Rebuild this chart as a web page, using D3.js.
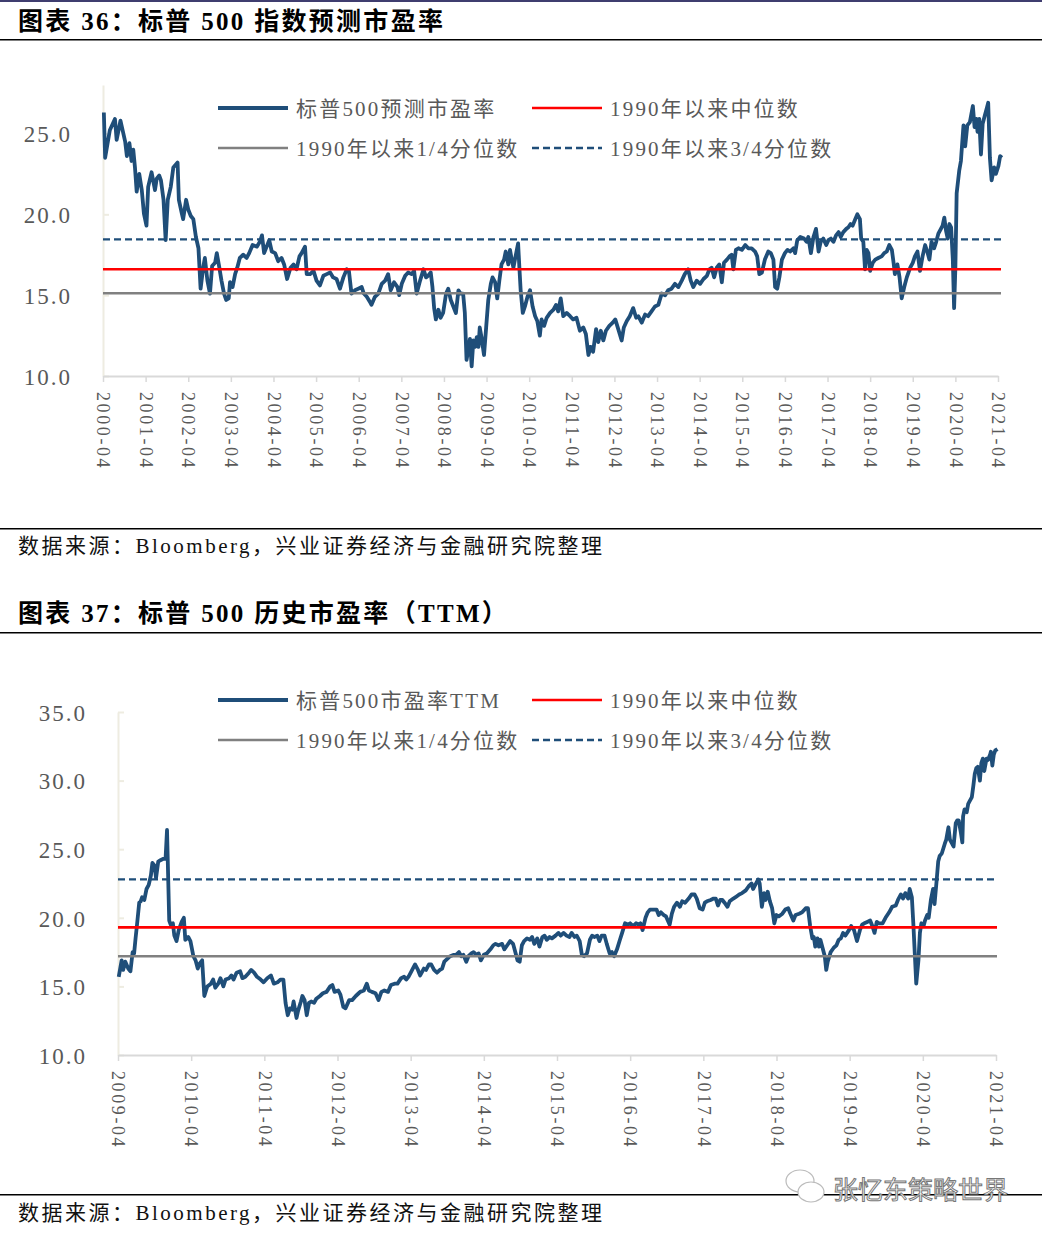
<!DOCTYPE html>
<html><head><meta charset="utf-8">
<script src="https://cdn.jsdelivr.net/npm/d3@7"></script>
<style>
html,body{margin:0;padding:0;background:#fff;}
svg{display:block;}
</style></head>
<body>
<svg id="c" width="1048" height="1236"></svg>
<script>
// ---------------- DATA ----------------
// Chart 36: forward P/E (decimal year, value)
const fwdYears = [2000.27,2000.30,2000.41,2000.53,2000.57,2000.66,2000.77,2000.81,2000.87,2000.92,2000.96,2001.00,2001.04,2001.10,2001.16,2001.21,2001.27,2001.31,2001.39,2001.47,2001.51,2001.57,2001.61,2001.67,2001.72,2001.77,2001.84,2001.90,2002.00,2002.03,2002.10,2002.13,2002.20,2002.25,2002.31,2002.37,2002.43,2002.49,2002.54,2002.60,2002.64,2002.70,2002.76,2002.81,2002.88,2002.92,2002.98,2003.03,2003.09,2003.14,2003.20,2003.23,2003.29,2003.35,2003.40,2003.46,2003.54,2003.62,2003.68,2003.76,2003.86,2003.93,2003.98,2004.03,2004.09,2004.15,2004.21,2004.29,2004.36,2004.44,2004.50,2004.57,2004.65,2004.72,2004.79,2004.86,2004.91,2004.99,2005.03,2005.11,2005.19,2005.26,2005.34,2005.42,2005.50,2005.58,2005.65,2005.73,2005.81,2005.89,2005.97,2006.02,2006.08,2006.16,2006.24,
2006.32,2006.37,2006.44,2006.51,2006.55,2006.63,2006.71,2006.79,2006.87,2006.94,2007.00,2007.08,2007.16,2007.20,2007.26,2007.34,2007.41,2007.49,2007.55,2007.61,2007.69,2007.77,2007.83,2007.88,2007.94,2007.98,2008.02,2008.06,2008.12,2008.17,2008.23,2008.30,2008.35,2008.41,2008.47,2008.53,2008.59,2008.64,2008.70,2008.74,2008.78,2008.82,2008.86,2008.90,2008.94,2008.98,2009.02,2009.06,2009.09,2009.13,2009.19,2009.24,2009.29,2009.35,2009.39,2009.45,2009.50,2009.55,2009.60,2009.66,2009.70,2009.76,2009.80,2009.84,2009.88,2009.93,2009.99,2010.02,2010.05,2010.10,2010.15,2010.21,2010.27,2010.33,2010.39,2010.44,2010.50,2010.54,2010.60,2010.66,2010.74,2010.82,2010.88,2010.93,2010.99,2011.05,2011.13,2011.21,2011.28,2011.36,2011.44,2011.52,2011.58,2011.64,2011.69,2011.75,2011.82,2011.87,2011.93,2011.99,2012.05,2012.13,2012.21,2012.27,2012.34,2012.42,2012.47,2012.54,2012.61,2012.69,2012.76,2012.81,2012.89,2012.97,2013.04,2013.12,2013.20,2013.28,2013.36,2013.44,2013.51,2013.59,2013.67,2013.75,2013.83,2013.90,2013.98,2014.04,2014.10,2014.18,2014.26,
2014.34,2014.42,2014.48,2014.53,2014.59,2014.65,2014.71,2014.77,2014.82,2014.89,2014.95,2015.00,2015.04,2015.10,2015.16,2015.24,2015.32,2015.39,2015.47,2015.55,2015.60,2015.65,2015.71,2015.78,2015.86,2015.92,2015.98,2016.02,2016.07,2016.12,2016.18,2016.25,2016.31,2016.37,2016.45,2016.49,2016.54,2016.61,2016.70,2016.76,2016.80,2016.86,2016.92,2016.98,2017.04,2017.09,2017.15,2017.22,2017.27,2017.33,2017.39,2017.45,2017.51,2017.56,2017.62,2017.69,2017.74,2017.79,2017.84,2017.90,2017.95,2018.01,2018.04,2018.09,2018.13,2018.17,2018.21,2018.25,2018.31,2018.37,2018.44,2018.52,2018.58,2018.64,2018.70,2018.76,2018.80,2018.83,2018.89,2018.94,2018.99,2019.05,2019.11,2019.19,2019.25,2019.30,2019.36,2019.42,2019.48,2019.54,2019.59,2019.64,2019.69,2019.75,2019.80,2019.85,2019.91,2019.95,2019.99,2020.03,2020.07,2020.11,2020.15,2020.19,2020.22,2020.25,2020.28,2020.34,2020.38,2020.44,2020.48,2020.53,2020.59,2020.66,2020.70,2020.74,2020.77,2020.81,2020.85,2020.89,2020.95,2020.99,2021.02,2021.06,2021.10,2021.16,2021.20,2021.26,2021.30,2021.34];
const fwdValues = [26.3,23.5,25.2,25.9,24.6,25.8,24.5,23.6,24.4,23.3,24.0,22.9,21.4,22.5,21.5,20.05,19.3,21.7,22.6,21.5,22.2,22.4,22.1,20.9,18.4,20.9,21.7,22.9,23.2,20.9,20.05,19.7,20.9,20.3,19.9,19.7,18.6,17.9,15.4,16.7,17.3,15.9,15.1,16.8,17.0,17.6,16.7,15.9,15.1,14.7,14.8,15.8,15.5,16.3,16.7,17.3,17.5,17.3,17.6,18.1,18.0,18.3,18.7,17.6,18.0,18.4,17.7,17.6,17.1,17.3,16.9,16.0,16.7,16.9,16.6,17.4,17.6,18.0,16.3,16.3,16.5,15.9,15.6,16.2,16.3,16.4,16.1,16.0,15.4,16.1,16.6,16.5,15.1,15.3,15.4,
15.5,15.1,14.9,14.6,14.4,14.9,15.1,15.7,15.9,16.3,15.3,15.8,15.5,15.0,15.7,16.2,16.4,16.3,16.5,15.1,15.9,16.6,16.1,16.2,16.4,15.5,14.2,13.5,14.1,13.6,13.9,15.1,15.4,14.7,14.3,13.9,15.3,15.1,15.1,13.9,11.0,11.6,12.3,10.6,12.2,11.8,12.4,11.8,13.0,12.4,11.3,13.0,14.7,15.7,16.1,15.8,14.8,15.9,16.9,17.2,17.7,16.9,17.8,17.2,16.7,17.4,18.2,16.7,15.3,13.9,14.3,14.9,15.3,14.3,13.7,13.4,12.5,13.5,13.1,13.6,13.9,14.1,14.4,14.0,14.8,13.7,13.9,13.7,13.5,13.6,12.8,13.0,12.6,11.3,11.8,11.5,12.9,12.1,12.8,12.2,12.8,13.1,13.3,13.5,12.9,12.2,13.0,13.4,13.7,14.2,13.6,13.7,13.3,13.8,13.7,14.0,14.3,14.4,15.1,15.0,15.3,15.4,15.7,15.5,15.9,16.3,16.6,15.9,15.5,15.9,15.7,
16.0,16.2,16.6,16.7,16.1,16.7,16.9,15.8,17.0,17.2,17.4,17.5,16.6,17.8,17.9,17.8,18.1,17.9,17.9,17.7,17.4,16.3,16.4,17.2,17.7,17.6,17.2,15.5,15.4,16.1,17.2,17.6,17.8,17.7,17.9,17.6,18.4,18.6,18.5,18.3,18.6,17.6,18.6,19.1,17.7,18.3,18.5,18.1,18.4,18.5,18.3,18.7,18.9,18.6,18.9,19.1,19.2,19.4,19.3,19.7,20.0,19.7,18.5,18.3,16.6,17.8,17.6,16.5,17.0,17.2,17.3,17.4,17.6,17.7,18.1,17.8,17.0,16.3,16.9,16.1,14.8,15.5,16.1,16.7,17.0,17.4,17.7,16.5,17.4,18.1,17.7,17.2,18.3,17.9,18.3,18.8,19.1,19.3,19.8,19.0,18.5,19.4,19.2,17.2,14.2,16.7,21.3,22.7,23.3,25.5,24.2,25.5,25.7,26.7,25.4,25.9,25.1,25.9,23.7,25.6,26.2,26.6,26.9,23.5,22.1,22.9,22.5,23.0,23.6,23.5];

// Chart 37: trailing P/E (TTM)
const ttmYears = [2009.26,2009.30,2009.32,2009.35,2009.39,2009.42,2009.45,2009.47,2009.49,2009.51,2009.54,2009.56,2009.58,2009.61,2009.64,2009.67,2009.70,2009.72,2009.75,2009.77,2009.80,2009.83,2009.87,2009.90,2009.92,2009.95,2009.97,2010.00,2010.02,2010.05,2010.08,2010.12,2010.15,2010.17,2010.21,2010.24,2010.28,2010.31,2010.34,2010.37,2010.40,2010.43,2010.47,2010.52,2010.55,2010.58,2010.62,2010.65,2010.69,2010.72,2010.77,2010.80,2010.83,2010.87,2010.92,2010.95,2010.99,2011.04,2011.07,2011.11,2011.15,2011.20,2011.24,2011.29,2011.34,2011.38,2011.43,2011.47,2011.51,2011.54,2011.57,2011.60,2011.63,2011.65,2011.69,2011.71,2011.75,2011.77,2011.80,2011.83,2011.86,2011.89,2011.93,2011.96,2012.01,2012.05,2012.10,2012.15,2012.18,2012.21,2012.26,2012.29,2012.33,2012.36,2012.41,2012.45,2012.50,2012.54,
2012.56,2012.61,2012.65,2012.68,2012.72,2012.77,2012.81,2012.85,2012.89,2012.94,2012.98,2013.03,2013.07,2013.12,2013.16,2013.19,2013.22,2013.26,2013.29,2013.31,2013.35,2013.38,2013.43,2013.46,2013.50,2013.53,2013.57,2013.61,2013.65,2013.68,2013.71,2013.75,2013.79,2013.84,2013.87,2013.91,2013.94,2013.97,2014.01,2014.04,2014.08,2014.11,2014.15,2014.18,2014.21,2014.25,2014.29,2014.34,2014.38,2014.41,2014.45,2014.50,2014.53,2014.57,2014.61,2014.65,2014.68,2014.71,2014.74,2014.77,2014.80,2014.84,2014.88,2014.91,2014.94,2014.98,2015.01,2015.05,2015.08,2015.11,2015.15,2015.18,2015.23,2015.27,2015.30,2015.34,2015.38,2015.42,2015.45,2015.49,2015.52,2015.56,2015.59,2015.62,2015.66,2015.70,2015.73,2015.76,2015.80,2015.83,2015.86,2015.90,2015.93,2015.97,2016.00,2016.03,2016.07,2016.11,2016.14,2016.18,2016.22,2016.25,2016.29,2016.33,2016.37,2016.39,2016.42,2016.46,2016.49,2016.52,2016.56,2016.61,2016.64,2016.67,2016.71,2016.74,2016.79,2016.82,2016.85,2016.89,2016.93,2016.96,2017.00,2017.05,2017.09,2017.13,2017.16,2017.20,
2017.24,2017.27,2017.30,2017.35,2017.39,2017.42,2017.45,2017.48,2017.51,2017.54,2017.58,2017.61,2017.66,2017.69,2017.74,2017.78,2017.83,2017.87,2017.91,2017.93,2017.96,2018.00,2018.02,2018.05,2018.08,2018.10,2018.13,2018.16,2018.19,2018.22,2018.25,2018.28,2018.33,2018.37,2018.41,2018.44,2018.48,2018.51,2018.56,2018.60,2018.65,2018.68,2018.71,2018.74,2018.76,2018.78,2018.81,2018.83,2018.85,2018.88,2018.91,2018.93,2018.95,2018.99,2019.03,2019.07,2019.10,2019.13,2019.16,2019.19,2019.24,2019.27,2019.31,2019.35,2019.39,2019.42,2019.45,2019.49,2019.53,2019.56,2019.59,2019.62,2019.65,2019.70,2019.74,2019.79,2019.83,2019.88,2019.91,2019.95,2019.98,2020.01,2020.05,2020.07,2020.10,2020.12,2020.14,2020.16,2020.19,2020.21,2020.23,2020.26,2020.28,2020.31,2020.33,2020.36,2020.39,2020.41,2020.44,2020.46,2020.48,2020.51,2020.55,2020.57,2020.60,2020.62,2020.65,2020.67,2020.70,2020.72,2020.74,2020.77,2020.79,2020.80,2020.82,2020.85,2020.87,2020.89,2020.92,2020.94,2020.96,2020.98,2021.00,2021.03,2021.05,2021.07,2021.09,2021.12,2021.14,2021.17,2021.18,2021.20,2021.22,2021.24,2021.27];
const ttmValues = [15.7,16.9,16.2,16.8,16.3,16.1,17.5,17.4,18.5,19.5,21.1,21.2,21.5,21.3,22.1,22.4,23.1,24.0,23.8,22.9,24.1,24.2,24.3,24.3,26.4,19.8,19.5,19.6,18.7,18.3,19.1,19.7,20.0,18.4,18.6,18.3,17.2,16.9,16.3,16.7,16.9,14.3,15.0,15.2,15.5,14.9,15.2,15.6,15.0,15.5,15.6,15.8,15.5,16.0,16.1,15.6,15.7,16.0,16.2,16.0,15.7,15.5,15.3,15.6,15.8,15.2,15.3,15.5,15.5,13.8,12.9,13.4,13.3,13.9,12.7,13.2,13.9,14.3,14.0,12.9,13.8,13.9,13.8,14.1,14.3,14.5,14.6,15.0,15.1,14.6,14.7,14.4,13.5,13.4,14.0,14.0,14.3,14.5,
14.6,14.7,15.2,14.7,14.6,14.5,14.0,14.6,14.7,14.6,15.1,15.2,15.2,15.6,15.7,15.5,15.7,16.1,16.4,16.6,16.2,15.8,16.3,16.2,16.6,16.6,16.2,16.0,16.2,16.3,16.8,17.0,17.2,17.3,17.3,17.5,17.2,17.3,16.8,17.2,17.4,17.5,17.3,17.4,16.9,17.3,17.4,17.7,18.0,18.1,18.0,18.1,17.7,18.0,18.3,18.1,17.5,16.9,16.8,18.0,18.3,18.5,18.4,18.6,18.1,18.5,17.9,18.6,18.7,18.4,18.6,18.5,18.7,18.9,18.7,18.9,18.7,18.6,18.9,18.6,18.7,18.3,17.3,17.2,17.4,18.4,18.7,18.6,18.7,18.3,18.7,18.7,18.1,17.4,17.5,17.2,17.7,18.4,18.9,19.6,19.5,19.6,19.4,19.6,19.5,19.6,19.1,20.0,20.4,20.6,20.6,20.6,20.2,20.4,20.2,20.1,19.5,20.3,20.8,21.1,20.8,21.2,21.1,21.4,21.7,21.7,21.4,20.7,
20.6,21.1,21.2,21.3,21.4,21.4,20.9,21.3,21.3,21.1,20.8,21.2,21.4,21.5,21.7,21.8,22.0,22.3,22.5,22.1,22.4,22.8,22.5,20.8,21.8,21.3,21.9,21.2,20.7,19.6,20.2,20.1,20.3,20.6,20.7,20.3,19.8,20.2,20.3,20.4,20.7,20.7,19.4,18.5,18.6,17.9,18.5,17.9,18.4,17.8,17.2,16.2,16.8,17.5,17.8,18.0,18.4,18.5,18.9,18.7,19.1,19.4,19.1,18.3,19.1,19.5,19.6,19.7,19.8,19.4,18.9,19.7,19.6,19.6,20.0,20.4,20.8,20.9,21.3,21.7,21.4,21.8,21.4,22.1,21.5,19.6,17.4,15.2,16.9,18.9,19.6,19.4,19.8,20.2,20.0,21.3,22.1,21.0,22.8,24.1,24.5,24.7,25.4,25.7,26.6,25.7,25.4,25.2,26.9,27.1,27.1,26.2,25.5,27.4,27.9,27.7,28.3,28.5,28.8,29.6,30.5,30.9,31.0,30.0,31.3,31.6,30.7,31.6,31.5,31.9,32.1,31.1,31.9,32.2,32.3];

// Reference levels since 1990: [median, 1/4 quantile, 3/4 quantile]
const fwdRefs = [16.6, 15.12, 18.45];
const ttmRefs = [19.3, 17.2, 22.8];

const fwdTickYears = d3.range(2000, 2022);
const ttmTickYears = d3.range(2009, 2022);
const fwdYTicks = [10, 15, 20, 25];
const ttmYTicks = [10, 15, 20, 25, 30, 35];

const fwdLegend = ["标普500预测市盈率", "1990年以来中位数", "1990年以来1/4分位数", "1990年以来3/4分位数"];
const ttmLegend = ["标普500市盈率TTM", "1990年以来中位数", "1990年以来1/4分位数", "1990年以来3/4分位数"];

const titles = ["图表 36：标普 500 指数预测市盈率", "图表 37：标普 500 历史市盈率（TTM）"];
const sourceText = "数据来源：Bloomberg，兴业证券经济与金融研究院整理";
const watermark = "张忆东策略世界";

// ---------------- DRAW ----------------
const svg = d3.select("#c");
const SERIF = "'Liberation Serif','Noto Sans CJK SC',serif";
const LABEL = "#595959";
const BLUE = "#1F4E79";

svg.append("rect").attr("x",0).attr("y",0).attr("width",1042).attr("height",2).attr("fill","#3f3d6f");

function header(text, y, lineY) {
  svg.append("text").attr("x",18).attr("y",y).text(text)
    .attr("font-family",SERIF).attr("font-weight","bold").attr("font-size",25)
    .style("letter-spacing","2.3px").attr("fill","#000");
  svg.append("rect").attr("x",0).attr("y",lineY).attr("width",1042).attr("height",1.5).attr("fill","#000");
}
function footer(lineY, textY) {
  svg.append("rect").attr("x",0).attr("y",lineY).attr("width",1042).attr("height",1.5).attr("fill","#000");
  svg.append("text").attr("x",18).attr("y",textY).text(sourceText)
    .attr("font-family",SERIF).attr("font-size",21)
    .style("letter-spacing","2.5px").attr("fill","#111");
}

function chart(cfg) {
  const x = d3.scaleLinear().domain(cfg.xDomain).range(cfg.xRange);
  const y = d3.scaleLinear().domain(cfg.yDomain).range(cfg.yRange);
  const g = svg.append("g");

  // y axis
  const ya = g.append("g").attr("transform",`translate(${cfg.xRange[0]},0)`)
    .call(d3.axisLeft(y).tickValues(cfg.yTicks).tickSizeInner(-6).tickSizeOuter(0).tickPadding(31)
      .tickFormat(d3.format(".1f")));
  ya.select(".domain").attr("stroke","#EEECE1").attr("stroke-width",2);
  ya.selectAll(".tick line").attr("stroke","#EEECE1").attr("stroke-width",2);
  ya.selectAll(".tick text").attr("font-family",SERIF).attr("font-size",23).attr("fill",LABEL)
    .style("letter-spacing","2px").attr("dy","0.36em");

  // x axis
  const xa = g.append("g").attr("transform",`translate(0,${cfg.yRange[0]})`)
    .call(d3.axisBottom(x).tickValues(cfg.xTicks.map(d=>d+0.25)).tickSizeInner(6).tickSizeOuter(0)
      .tickFormat(d => Math.round(d-0.25) + "-04"));
  xa.select(".domain").attr("stroke","#D9D9D9").attr("stroke-width",2);
  xa.selectAll(".tick line").attr("stroke","#D9D9D9").attr("stroke-width",1.5);
  xa.selectAll(".tick text").attr("font-family",SERIF).attr("font-size",18).attr("fill",LABEL)
    .style("letter-spacing","2.6px")
    .attr("transform","rotate(90)").attr("x",16).attr("y",0).attr("dy","0.35em").attr("text-anchor","start");

  // data line
  const pts = cfg.years.map((yr,i)=>[yr,cfg.values[i]]);
  g.append("path").datum(pts)
    .attr("d", d3.line().x(d=>x(d[0])).y(d=>y(d[1])))
    .attr("fill","none").attr("stroke",BLUE).attr("stroke-width",3.8).attr("stroke-linejoin","round");

  // reference lines
  const refStyles = [
    {stroke:"#FF0000", w:2.6, dash:null},
    {stroke:"#808080", w:2.6, dash:null},
    {stroke:"#1F4E79", w:2.4, dash:"7,4"}
  ];
  cfg.refs.forEach((v,i)=>{
    g.append("line").attr("x1",cfg.xRange[0]).attr("x2",cfg.refEnd)
      .attr("y1",y(v)).attr("y2",y(v))
      .attr("stroke",refStyles[i].stroke).attr("stroke-width",refStyles[i].w)
      .attr("stroke-dasharray",refStyles[i].dash);
  });

  // legend
  const legStyles = [
    {stroke:BLUE, w:3.8, dash:null},
    {stroke:"#FF0000", w:2.6, dash:null},
    {stroke:"#808080", w:2.6, dash:null},
    {stroke:"#1F4E79", w:2.4, dash:"7,4"}
  ];
  const legPos = [[218,cfg.legY],[532,cfg.legY],[218,cfg.legY+40],[532,cfg.legY+40]];
  cfg.legend.forEach((t,i)=>{
    const [lx,ly] = legPos[i];
    g.append("line").attr("x1",lx).attr("x2",lx+70).attr("y1",ly).attr("y2",ly)
      .attr("stroke",legStyles[i].stroke).attr("stroke-width",legStyles[i].w)
      .attr("stroke-dasharray",legStyles[i].dash);
    g.append("text").attr("x",lx+78).attr("y",ly).attr("dy","0.36em").text(t)
      .attr("font-family",SERIF).attr("font-size",21).attr("fill",LABEL)
      .style("letter-spacing","2.2px");
  });
}

header(titles[0], 30, 39);
chart({
  xDomain:[2000.25,2021.25], xRange:[103,998], yDomain:[10,28], yRange:[376,85],
  xTicks:fwdTickYears, yTicks:fwdYTicks, years:fwdYears, values:fwdValues,
  refs:fwdRefs, refEnd:1001, legend:fwdLegend, legY:108
});
footer(528, 553);

header(titles[1], 622, 632);
chart({
  xDomain:[2009.25,2021.25], xRange:[118,996], yDomain:[10,35], yRange:[1055,712],
  xTicks:ttmTickYears, yTicks:ttmYTicks, years:ttmYears, values:ttmValues,
  refs:ttmRefs, refEnd:997, legend:ttmLegend, legY:700
});
footer(1194, 1220);

// watermark
const wm = svg.append("g");
wm.append("ellipse").attr("cx",800).attr("cy",1181).attr("rx",14).attr("ry",11)
  .attr("fill","#fff").attr("stroke","#bbb").attr("stroke-width",1.2);
wm.append("ellipse").attr("cx",811).attr("cy",1192).attr("rx",13).attr("ry",10)
  .attr("fill","#fff").attr("stroke","#bbb").attr("stroke-width",1.2);
wm.append("text").attr("x",833).attr("y",1199).text(watermark)
  .attr("font-family","'Noto Sans CJK SC',sans-serif").attr("font-size",25)
  .attr("fill","#fff").attr("stroke","#777").attr("stroke-width",1);
</script>
</body></html>
